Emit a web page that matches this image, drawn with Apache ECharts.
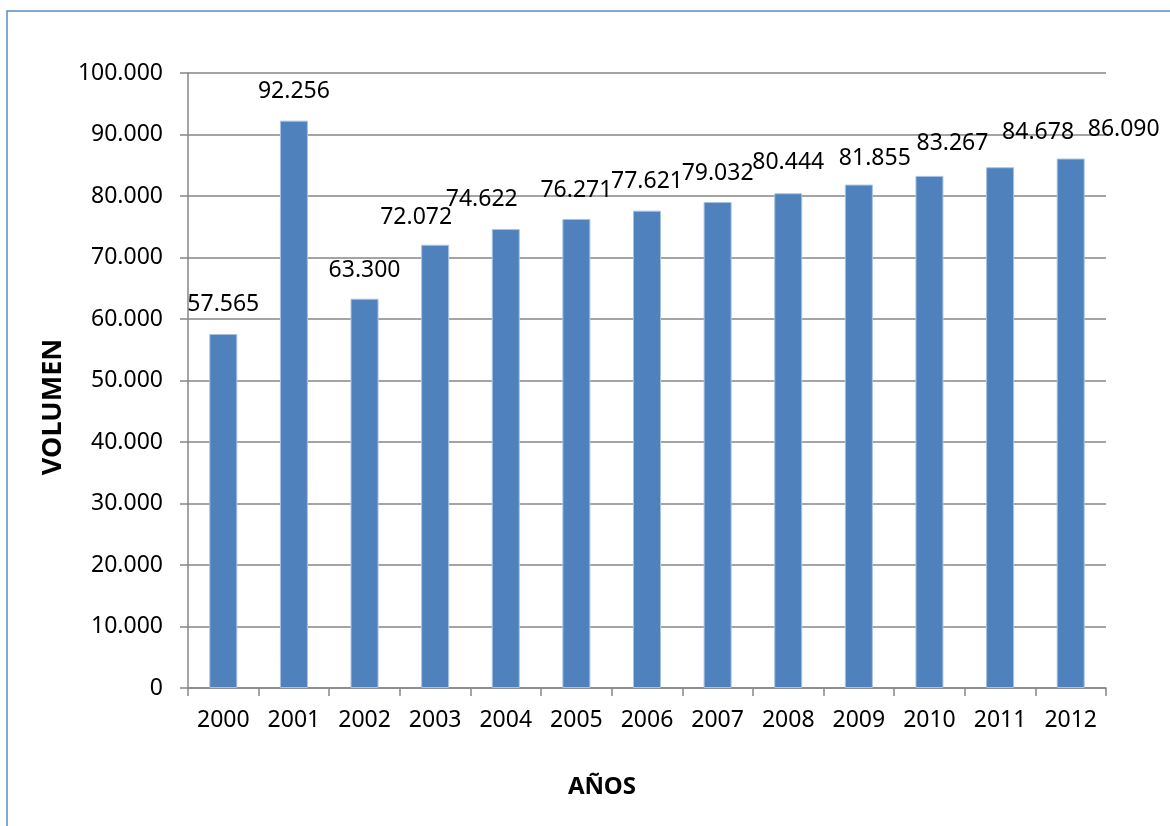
<!DOCTYPE html>
<html>
<head>
<meta charset="utf-8">
<script src="https://cdn.jsdelivr.net/npm/echarts@6/dist/echarts.min.js"></script>
<style>
  html, body { margin: 0; padding: 0; background: #fff; }
  #main { width: 1170px; height: 826px; }
</style>
</head>
<body>
<div id="main"></div>
<script>
// datos del gráfico
var years = ['2000', '2001', '2002', '2003', '2004', '2005', '2006', '2007', '2008', '2009', '2010', '2011', '2012'];
var volumen = [57565, 92256, 63300, 72072, 74622, 76271, 77621, 79032, 80444, 81855, 83267, 84678, 86090];
// desplazamiento manual de las etiquetas (como en la hoja original)
var labelShiftX = [0, 0, 0, -19, -24, 0, 0, 0, 0, 16, 23, 38, 53];
var labelShiftY = [-1, -1, 0, 1, -1, 0, -1, 0, -2, 2, -4, -6, -1];

function miles(v) {
  return String(v).replace(/\B(?=(\d{3})+(?!\d))/g, '.');
}

var chart = echarts.init(document.getElementById('main'));

var gris = '#868686';
var fuente = '"Noto Sans", sans-serif';

var option = {
  animation: false,
  textStyle: { fontFamily: fuente },
  grid: {
    left: 188,
    right: 64,
    top: 73,
    bottom: 138
  },
  xAxis: {
    type: 'category',
    data: years,
    axisLine: { lineStyle: { color: gris, width: 1.5 } },
    axisTick: { show: true, length: 8, lineStyle: { color: gris, width: 1.5 } },
    axisLabel: { color: '#000', fontSize: 23, margin: 21, fontFamily: fuente }
  },
  yAxis: {
    type: 'value',
    min: 0,
    max: 100000,
    interval: 10000,
    axisLine: { show: true, lineStyle: { color: gris, width: 1.5 } },
    axisTick: { show: true, length: 8, lineStyle: { color: gris, width: 1.5 } },
    splitLine: { show: true, lineStyle: { color: gris, width: 1.5 } },
    axisLabel: {
      color: '#000',
      fontSize: 23,
      margin: 25,
      fontFamily: fuente,
      formatter: function (v) { return miles(v); }
    }
  },
  series: [{
    name: 'VOLUMEN',
    type: 'bar',
    barWidth: 28,
    data: volumen.map(function (v, i) {
      return {
        value: v,
        label: { offset: [labelShiftX[i], labelShiftY[i]] }
      };
    }),
    itemStyle: {
      color: '#4F81BD',
      borderColor: '#A9C2E2',
      borderWidth: 1
    },
    label: {
      show: true,
      position: 'top',
      distance: 17,
      color: '#000',
      fontSize: 23,
      fontFamily: fuente,
      formatter: function (p) { return miles(p.value); }
    }
  }],
  graphic: [
    {
      type: 'rect',
      shape: { x: 7, y: 11, width: 1300, height: 1000 },
      style: { fill: 'none', stroke: '#5B8BC9', lineWidth: 1.5 },
      silent: true
    },
    {
      type: 'text',
      x: 53,
      y: 407,
      rotation: Math.PI / 2,
      style: {
        text: 'VOLUMEN',
        fill: '#000',
        font: 'bold 27px "Noto Sans", sans-serif',
        align: 'center',
        verticalAlign: 'middle'
      }
    },
    {
      type: 'text',
      x: 602,
      y: 787,
      style: {
        text: 'AÑOS',
        fill: '#000',
        font: 'bold 24px "Noto Sans", sans-serif',
        align: 'center',
        verticalAlign: 'middle'
      }
    }
  ]
};

chart.setOption(option);
</script>
</body>
</html>
